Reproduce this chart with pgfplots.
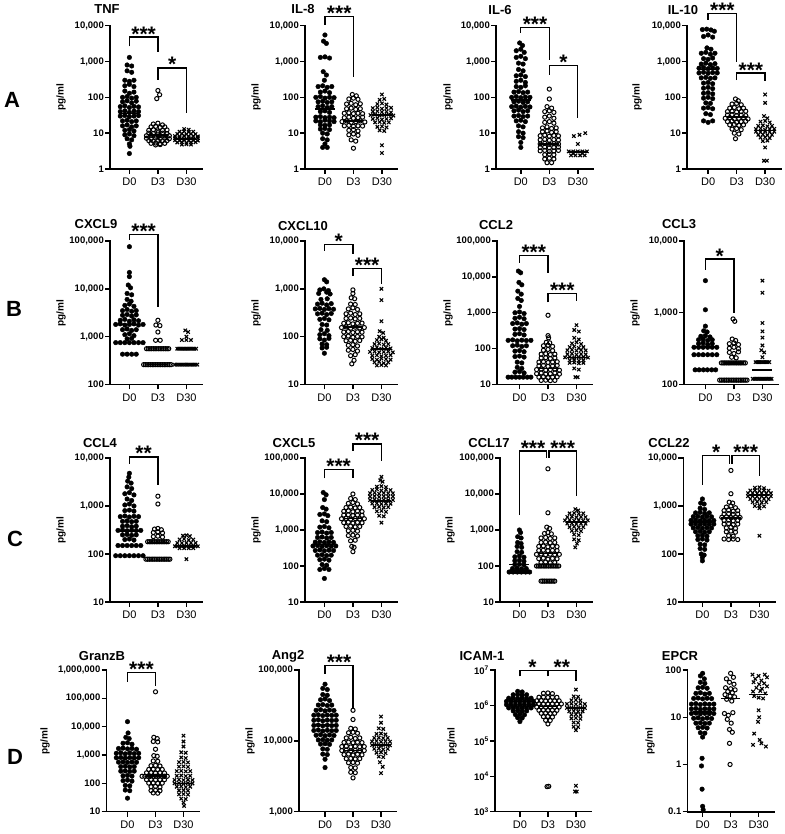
\documentclass[border=0pt]{standalone}
\usepackage{fontspec}
\setmainfont{Liberation Sans}
\usepackage{pgfplots}
\pgfplotsset{compat=1.18}
\newcommand\starfont{\bfseries\fontsize{21}{21}\selectfont}
\newcommand\titfont{\bfseries\fontsize{13}{13}\selectfont}
\newcommand\sigbr[7]{%
  \draw[line width=1.3pt] (axis cs:#1,#5) |- (axis cs:#2,#4) -- (axis cs:#2,#6);
  \node[anchor=base, inner sep=0pt, font=\starfont, yshift=-4pt] at (axis cs:#3,#4) {#7};}
\newcommand\meds[3]{%
  \addplot[pmed] coordinates {(-0.35,#1)(0.35,#1)};
  \addplot[pmed] coordinates {(0.65,#2)(1.35,#2)};
  \addplot[pmed] coordinates {(1.65,#3)(2.35,#3)};}
\pgfplotsset{
  pdzero/.style={only marks, mark=*, mark size=2.3pt, black},
  pdthree/.style={only marks, mark=o, mark size=2.1pt, black, mark options={line width=1pt}},
  pdthirty/.style={only marks, mark=x, mark size=2.4pt, black, mark options={line width=1.1pt}},
  pmed/.style={black, line width=1.6pt, no marks},
}
\pgfplotsset{scale only axis, axis x line*=bottom, axis y line*=left,
  axis line style={line width=1.6pt, line cap=rect},
  xtick={0,1,2}, xticklabels={D0,D3,D30}, tick align=outside, major tick length=5pt,
  tick style={line width=1.4pt, black}, yminorticks=false, clip=false, xmax=2.55,
  xticklabel style={font=\fontsize{11}{11}\selectfont, inner sep=1pt, yshift=-3pt},
  yticklabel style={font=\bfseries\fontsize{9.5}{9.5}\selectfont, inner sep=1pt}}
\begin{document}
\begin{tikzpicture}[x=1pt,y=1pt]
\useasboundingbox (0,0) rectangle (784,834);
% ---------------- Row A ----------------
\begin{axis}[ymode=log, anchor=south west, at={(110pt,665pt)}, width=92.1pt, height=143.3pt, xmin=-0.68, ymin=1, ymax=10000, ytick={1,10,100,1000,10000}, yticklabels={1,10,100,{1,000},{10,000}}]
\addplot[pdzero] coordinates {(0,1300)(-0.08,800)(0.08,750)(-0.08,550)(0.08,500)(-0.16,300)(0,280)(0.16,300)(-0.16,210)(0,230)(0.16,200)(-0.16,150)(0,130)(0.16,140)(-0.24,100)(-0.08,105)(0.08,95)(0.24,100)(-0.24,75)(-0.08,80)(0.08,70)(0.24,78)(-0.32,55)(-0.16,58)(0,52)(0.16,56)(0.32,54)(-0.32,40)(-0.16,42)(0,38)(0.16,41)(0.32,40)(-0.32,30)(-0.16,31)(0,29)(0.16,30)(0.32,31)(-0.24,22)(-0.08,23)(0.08,21)(0.24,22)(-0.24,16)(-0.08,17)(0.08,15)(0.24,16)(-0.16,12)(0,12.5)(0.16,11.5)(-0.16,9)(0,9.5)(0.16,8.5)(-0.08,7)(0.08,6.5)(0,5)(0.02,4.3)(0,2.7)};
\addplot[pdthree] coordinates {(1,155)(1.06,118)(0.96,92)(0.84,18)(1,19)(1.16,17)(0.76,15)(0.92,15.5)(1.08,14.5)(1.24,15)(0.68,12)(0.84,12.5)(1,11.5)(1.16,12)(1.32,12.3)(0.68,10)(0.84,9.8)(1,10.3)(1.16,10)(1.32,9.7)(0.6,8.5)(0.76,8.7)(0.92,8.3)(1.08,8.6)(1.24,8.4)(1.4,8.5)(0.6,7.2)(0.76,7)(0.92,7.3)(1.08,7.1)(1.24,7.2)(1.4,7)(0.68,6.2)(0.84,6)(1,6.3)(1.16,6.1)(1.32,6.2)(0.76,5.2)(0.92,5.3)(1.08,5.1)(1.24,5.2)(0.92,4.7)(1.08,4.8)};
\addplot[pdthirty] coordinates {(1.92,13)(2.08,12.5)(1.76,11)(1.92,11.3)(2.08,10.8)(2.24,11)(1.68,9.5)(1.84,9.7)(2,9.3)(2.16,9.6)(2.32,9.4)(1.6,8.3)(1.76,8.1)(1.92,8.4)(2.08,8.2)(2.24,8.3)(2.4,8.1)(1.6,7.2)(1.76,7.3)(1.92,7)(2.08,7.2)(2.24,7.1)(2.4,7.3)(1.6,6.3)(1.76,6.2)(1.92,6.4)(2.08,6.2)(2.24,6.3)(2.4,6.2)(1.68,5.5)(1.84,5.6)(2,5.4)(2.16,5.5)(2.32,5.6)(1.84,4.8)(2,4.9)(2.16,4.8)};
\meds{35}{9}{7}
\sigbr{0}{1}{0.5}{4800}{2630}{1800}{***}
\sigbr{1}{2}{1.5}{660}{310}{36}{*}
\end{axis}
\begin{axis}[ymode=log, anchor=south west, at={(305pt,665pt)}, width=92.6pt, height=143.3pt, xmin=-0.7, ymin=1, ymax=10000, ytick={1,10,100,1000,10000}, yticklabels={1,10,100,{1,000},{10,000}}]
\addplot[pdzero] coordinates {(0,5500)(-0.05,3700)(0.05,3200)(-0.16,1300)(0,1350)(0.16,1250)(-0.06,520)(0.05,420)(-0.02,300)(-0.24,200)(-0.08,210)(0.08,190)(0.24,200)(-0.16,140)(0,150)(0.16,135)(-0.32,100)(-0.16,105)(0,95)(0.16,100)(0.32,98)(-0.24,75)(-0.08,78)(0.08,72)(0.24,75)(-0.24,55)(-0.08,58)(0.08,52)(0.24,55)(-0.16,40)(0,42)(0.16,38)(-0.32,28)(-0.16,29)(0,27)(0.16,28)(0.32,27)(-0.32,22)(-0.16,21)(0,23)(0.16,22)(0.32,21)(-0.16,17)(0,16.5)(0.16,17)(-0.16,13)(0,13.5)(0.16,12.5)(-0.08,10)(0.08,9.5)(-0.08,7)(0.08,6.5)(0,5)(-0.08,4)(0.08,4)};
\addplot[pdthree] coordinates {(0.96,120)(1.1,110)(0.84,90)(1,95)(1.16,88)(0.76,65)(0.92,68)(1.08,62)(1.24,66)(0.76,48)(0.92,50)(1.08,46)(1.24,48)(0.68,36)(0.84,37)(1,35)(1.16,36)(1.32,35)(0.68,27)(0.84,28)(1,26)(1.16,27)(1.32,28)(0.6,21)(0.76,22)(0.92,20)(1.08,21)(1.24,22)(1.4,20.5)(0.68,16)(0.84,16.5)(1,15.5)(1.16,16)(1.32,15.8)(0.84,12)(1,12.5)(1.16,11.5)(0.84,9)(1,9.5)(1.16,8.7)(0.92,6.5)(1.08,6)(1,3.8)};
\addplot[pdthirty] coordinates {(2,120)(1.92,85)(2.08,90)(1.84,65)(2,68)(2.16,63)(1.68,50)(1.84,52)(2,48)(2.16,50)(2.32,51)(1.68,40)(1.84,41)(2,39)(2.16,40)(2.32,38)(1.6,32)(1.76,33)(1.92,31)(2.08,32)(2.24,33)(2.4,31)(1.68,25)(1.84,26)(2,24)(2.16,25)(2.32,26)(1.76,20)(1.92,20.5)(2.08,19.5)(2.24,20)(1.84,15)(2,15.5)(2.16,14.5)(1.92,12)(2.08,11.5)(2,4.6)(2,2.8)};
\meds{48}{22}{32}
\sigbr{0}{1}{0.5}{18000}{10700}{370}{***}
\end{axis}
\begin{axis}[ymode=log, anchor=south west, at={(496pt,665pt)}, width=97.5pt, height=143.3pt, xmin=-0.87, ymin=1, ymax=10000, ytick={1,10,100,1000,10000}, yticklabels={1,10,100,{1,000},{10,000}}]
\addplot[pdzero] coordinates {(-0.04,3300)(0.06,2800)(-0.16,2000)(0,2200)(0.12,1800)(-0.16,1300)(0,1400)(0.16,1200)(-0.08,900)(0.08,850)(-0.08,600)(0.08,550)(-0.16,400)(0,420)(0.16,380)(-0.16,280)(0,300)(0.16,260)(-0.16,200)(0,190)(0.16,210)(-0.24,140)(-0.08,145)(0.08,135)(0.24,140)(-0.32,100)(-0.16,105)(0,98)(0.16,102)(0.32,100)(-0.24,75)(-0.08,78)(0.08,72)(0.24,75)(-0.32,55)(-0.16,57)(0,53)(0.16,56)(0.32,54)(-0.24,42)(-0.08,44)(0.08,40)(0.24,42)(-0.24,30)(-0.08,31)(0.08,29)(0.24,30)(-0.16,22)(0,23)(0.16,21)(-0.08,16)(0.08,15)(-0.08,11)(0.08,10)(-0.08,8)(0.08,7.5)(0,5.5)(0,4)};
\addplot[pdthree] coordinates {(1,170)(1,90)(0.92,55)(1.08,50)(0.84,40)(1,42)(1.16,38)(0.84,28)(1,30)(1.16,26)(0.84,20)(1,21)(1.16,19)(0.76,14)(0.92,15)(1.08,13.5)(1.24,14)(0.76,11)(0.92,11.5)(1.08,10.5)(1.24,11)(0.68,8.5)(0.84,8.8)(1,8.2)(1.16,8.6)(1.32,8.4)(0.68,6.5)(0.84,6.7)(1,6.3)(1.16,6.6)(1.32,6.4)(0.68,5)(0.84,5.2)(1,4.9)(1.16,5.1)(1.32,5)(0.68,4)(0.84,4.1)(1,3.9)(1.16,4)(1.32,4.1)(0.68,3.2)(0.84,3.3)(1,3.1)(1.16,3.2)(1.32,3.3)(0.84,2.5)(1,2.6)(1.16,2.5)(0.84,1.9)(1,2)(1.16,1.9)(0.92,1.5)(1.08,1.5)};
\addplot[pdthirty] coordinates {(1.86,8.3)(2.06,9)(2.26,10)(2,5)(1.68,3.1)(1.84,3.1)(2,3.1)(2.16,3.1)(2.32,3.1)(1.76,2.4)(1.92,2.4)(2.08,2.4)(2.24,2.4)(1.84,2.7)(2.16,2.7)};
\meds{85}{5}{3}
\sigbr{0}{1}{0.5}{9100}{6300}{1100}{***}
\sigbr{1}{2}{1.5}{780}{430}{27}{*}
\end{axis}
\begin{axis}[ymode=log, anchor=south west, at={(687pt,665pt)}, width=93.8pt, height=143.3pt, xmin=-0.74, ymin=1, ymax=10000, ytick={1,10,100,1000,10000}, yticklabels={1,10,100,{1,000},{10,000}}]
\addplot[pdzero] coordinates {(-0.2,7800)(-0.05,8000)(0.1,7600)(0.22,7000)(-0.16,5000)(0,5500)(0.16,4800)(-0.04,2400)(0.1,2200)(-0.24,1700)(-0.08,1800)(0.08,1600)(0.24,1700)(-0.16,1200)(0,1150)(0.16,1250)(-0.24,850)(-0.08,900)(0.08,820)(0.24,870)(-0.32,650)(-0.16,680)(0,630)(0.16,660)(0.32,640)(-0.32,480)(-0.16,500)(0,470)(0.16,490)(0.32,480)(-0.24,350)(-0.08,360)(0.08,340)(0.24,350)(-0.16,250)(0,260)(0.16,240)(-0.16,180)(0,190)(0.16,175)(-0.16,130)(0,135)(0.16,125)(-0.16,95)(0,100)(0.16,92)(-0.08,70)(0.08,68)(-0.16,50)(0,52)(0.16,48)(-0.08,35)(0.08,33)(-0.16,22)(0,20)(0.16,22)};
\addplot[pdthree] coordinates {(0.96,90)(1.06,80)(0.84,65)(1,68)(1.16,62)(0.76,50)(0.92,52)(1.08,48)(1.24,50)(0.68,40)(0.84,41)(1,39)(1.16,40)(1.32,41)(0.68,32)(0.84,33)(1,31)(1.16,32)(1.32,31)(0.6,26)(0.76,27)(0.92,25)(1.08,26)(1.24,27)(1.4,25)(0.68,21)(0.84,22)(1,20)(1.16,21)(1.32,21.5)(0.76,17)(0.92,17.5)(1.08,16.5)(1.24,17)(0.84,13)(1,13.5)(1.16,12.5)(0.92,10)(1.08,9.5)(0.96,7)};
\addplot[pdthirty] coordinates {(2,120)(2,70)(1.96,30)(2.08,26)(1.84,21)(2,22)(2.16,20)(1.76,16)(1.92,16.5)(2.08,15.5)(2.24,16)(1.68,13)(1.84,13.5)(2,12.5)(2.16,13)(2.32,13.2)(1.68,11)(1.84,10.7)(2,11.2)(2.16,10.8)(2.32,11)(1.76,9)(1.92,9.2)(2.08,8.8)(2.24,9)(1.84,7.5)(2,7.7)(2.16,7.3)(1.92,6)(2.08,6.2)(2,4)(1.96,1.7)(2.06,1.7)};
\meds{600}{28}{12}
\sigbr{0}{1}{0.5}{22000}{14800}{1000}{***}
\sigbr{1}{2}{1.5}{475}{300}{280}{***}
\end{axis}
% ---------------- Row B ----------------
\begin{axis}[ymode=log, anchor=south west, at={(110pt,449.5pt)}, width=92.1pt, height=143.5pt, xmin=-0.68, ymin=100, ymax=100000, ytick={100,1000,10000,100000}, yticklabels={100,{1,000},{10,000},{100,000}}]
\addplot[pdzero] coordinates {(0,76000)(0,22000)(0,18000)(-0.04,12000)(0.04,10500)(-0.08,8000)(0.08,7500)(-0.08,6000)(0.06,5500)(-0.16,4500)(0,4800)(0.16,4300)(-0.24,3500)(-0.08,3700)(0.08,3400)(0.24,3500)(-0.24,2800)(-0.08,2900)(0.08,2700)(0.24,2850)(-0.32,2200)(-0.16,2300)(0,2100)(0.16,2250)(0.32,2150)(-0.48,1800)(-0.32,1850)(-0.16,1750)(0,1800)(0.16,1850)(0.32,1750)(0.48,1800)(-0.24,1400)(-0.08,1450)(0.08,1350)(0.24,1400)(-0.16,1100)(0,1150)(0.16,1050)(-0.08,900)(0.08,920)(-0.48,750)(-0.32,750)(-0.16,750)(0,750)(0.16,750)(0.32,750)(0.48,750)(-0.24,430)(-0.08,430)(0.08,430)(0.24,430)};
\addplot[pdthree] coordinates {(1,2200)(0.93,1750)(1.07,1700)(1,1250)(0.92,840)(1.08,840)(0.6,560)(0.66,560)(0.72,560)(0.78,560)(0.84,560)(0.9,560)(0.96,560)(1.02,560)(1.08,560)(1.14,560)(1.2,560)(1.26,560)(1.32,560)(1.38,560)(0.5,260)(0.56,260)(0.62,260)(0.68,260)(0.74,260)(0.8,260)(0.86,260)(0.92,260)(0.98,260)(1.04,260)(1.1,260)(1.16,260)(1.22,260)(1.28,260)(1.34,260)(1.4,260)(1.46,260)};
\addplot[pdthirty] coordinates {(1.96,1350)(2.06,1250)(2,1000)(1.84,850)(2,850)(2.16,850)(1.68,560)(1.74,560)(1.8,560)(1.86,560)(1.92,560)(1.98,560)(2.04,560)(2.1,560)(2.16,560)(2.22,560)(2.28,560)(2.34,560)(1.6,260)(1.66,260)(1.72,260)(1.78,260)(1.84,260)(1.9,260)(1.96,260)(2.02,260)(2.08,260)(2.14,260)(2.2,260)(2.26,260)(2.32,260)(2.38,260)};
\meds{1800}{260}{560}
\sigbr{0}{1}{0.5}{138000}{105000}{4200}{***}
\end{axis}
\begin{axis}[ymode=log, anchor=south west, at={(305pt,449.5pt)}, width=92.1pt, height=143.5pt, xmin=-0.68, ymin=10, ymax=10000, ytick={10,100,1000,10000}, yticklabels={10,100,{1,000},{10,000}}]
\addplot[pdzero] coordinates {(0,1550)(0.08,1400)(-0.16,950)(-0.02,1000)(0.14,920)(-0.2,800)(0.08,850)(0.2,780)(-0.12,600)(0.1,620)(-0.24,480)(-0.08,500)(0.08,460)(0.24,490)(-0.32,380)(-0.16,390)(0,370)(0.16,385)(0.32,375)(-0.24,300)(-0.08,310)(0.08,290)(0.24,305)(-0.16,230)(0,240)(0.16,225)(-0.08,180)(0.08,175)(-0.12,140)(0.1,135)(-0.16,110)(0,115)(0.16,105)(-0.16,90)(0,85)(0.16,92)(-0.08,70)(0.08,68)(-0.08,58)(0.08,60)(0,45)};
\addplot[pdthree] coordinates {(1,950)(1,800)(0.94,650)(1.06,620)(0.92,480)(1.08,470)(0.84,380)(1,400)(1.16,370)(0.76,300)(0.92,310)(1.08,290)(1.24,300)(0.76,240)(0.92,245)(1.08,235)(1.24,240)(0.68,190)(0.84,195)(1,185)(1.16,190)(1.32,192)(0.6,155)(0.76,160)(0.92,150)(1.08,158)(1.24,152)(1.4,155)(0.68,125)(0.84,128)(1,122)(1.16,126)(1.32,124)(0.68,100)(0.84,103)(1,97)(1.16,101)(1.32,99)(0.76,82)(0.92,84)(1.08,80)(1.24,83)(0.84,66)(1,68)(1.16,64)(0.84,52)(1,54)(1.16,50)(0.92,40)(1.08,42)(1.04,32)(0.96,27)};
\addplot[pdthirty] coordinates {(2,1000)(2,580)(2,210)(1.94,130)(2.06,120)(1.92,100)(2.08,95)(1.84,85)(2,88)(2.16,82)(1.76,70)(1.92,72)(2.08,68)(2.24,70)(1.68,58)(1.84,60)(2,56)(2.16,59)(2.32,57)(1.6,48)(1.76,49)(1.92,47)(2.08,48)(2.24,49)(2.4,47)(1.68,40)(1.84,41)(2,39)(2.16,40)(2.32,41)(1.68,34)(1.84,33)(2,35)(2.16,34)(2.32,33)(1.76,29)(1.92,30)(2.08,28)(2.24,29)(1.84,25)(2,25.5)(2.16,25)};
\meds{370}{160}{55}
\sigbr{0}{1}{0.5}{8500}{6200}{5400}{*}
\sigbr{1}{2}{1.5}{2650}{1850}{1280}{***}
\end{axis}
\begin{axis}[ymode=log, anchor=south west, at={(497pt,449.5pt)}, width=95.2pt, height=143.5pt, xmin=-0.79, ymin=10, ymax=100000, ytick={10,100,1000,10000,100000}, yticklabels={10,100,{1,000},{10,000},{100,000}}]
\addplot[pdzero] coordinates {(-0.04,14500)(0.04,13000)(-0.02,7000)(0.08,6000)(-0.06,4000)(0.06,3300)(-0.06,2500)(0.06,2200)(0,1500)(-0.16,1000)(0,1050)(0.16,950)(-0.16,700)(0,750)(0.16,680)(-0.24,500)(-0.08,520)(0.08,480)(0.24,500)(-0.16,350)(0,360)(0.16,340)(-0.16,250)(0,260)(0.16,240)(-0.4,170)(-0.24,175)(-0.08,165)(0.08,172)(0.24,168)(0.4,170)(-0.24,120)(-0.08,125)(0.08,115)(0.24,120)(-0.16,85)(0,88)(0.16,82)(-0.16,60)(0,62)(0.16,58)(-0.08,42)(0.08,40)(-0.08,30)(0.08,28)(-0.16,22)(0,23)(0.16,21)(-0.4,16)(-0.27,16)(-0.13,16)(0,16)(0.13,16)(0.27,16)(0.4,16)};
\addplot[pdthree] coordinates {(1,850)(1,230)(1.02,200)(0.94,150)(1.06,145)(0.84,120)(1,125)(1.16,115)(0.84,90)(1,95)(1.16,88)(0.76,70)(0.92,72)(1.08,68)(1.24,70)(0.76,55)(0.92,56)(1.08,53)(1.24,55)(0.68,42)(0.84,43)(1,41)(1.16,42)(1.32,43)(0.68,33)(0.84,34)(1,32)(1.16,33)(1.32,34)(0.6,26)(0.76,27)(0.92,25)(1.08,26)(1.24,27)(1.4,25)(0.6,20)(0.76,21)(0.92,19.5)(1.08,20)(1.24,21)(1.4,19.5)(0.68,16)(0.84,16.5)(1,15.5)(1.16,16)(1.32,16.3)(0.76,13)(0.92,13.2)(1.08,12.8)(1.24,13)};
\addplot[pdthirty] coordinates {(2,450)(1.92,330)(2.08,300)(1.92,200)(2.08,180)(1.84,140)(2,150)(2.16,135)(1.76,110)(1.92,115)(2.08,105)(2.24,110)(1.68,90)(1.84,92)(2,88)(2.16,91)(2.32,89)(1.68,70)(1.84,72)(2,68)(2.16,71)(2.32,69)(1.6,57)(1.76,58)(1.92,56)(2.08,57)(2.24,58)(2.4,56)(1.76,47)(1.92,48)(2.08,46)(2.24,47)(1.76,40)(1.92,41)(2.08,39)(2.24,40)(1.92,28)(2.08,26)(1.96,16)(2.04,16)};
\meds{170}{28}{57}
\sigbr{0}{1}{0.5}{40000}{25000}{13000}{***}
\sigbr{1}{2}{1.5}{3500}{1950}{2150}{***}
\end{axis}
\begin{axis}[ymode=log, anchor=south west, at={(684pt,449.5pt)}, width=94.1pt, height=143.5pt, xmin=-0.75, ymin=100, ymax=10000, ytick={100,1000,10000}, yticklabels={100,{1,000},{10,000}}]
\addplot[pdzero] coordinates {(0,2800)(0,1100)(0,650)(-0.06,560)(0.06,540)(-0.16,470)(0,480)(0.16,460)(-0.24,420)(-0.08,430)(0.08,410)(0.24,420)(-0.24,370)(-0.08,380)(0.08,360)(0.24,370)(-0.4,330)(-0.24,330)(-0.08,330)(0.08,330)(0.24,330)(0.4,330)(-0.4,260)(-0.24,260)(-0.08,260)(0.08,260)(0.24,260)(0.4,260)(-0.36,160)(-0.22,160)(-0.07,160)(0.07,160)(0.22,160)(0.36,160)};
\addplot[pdthree] coordinates {(0.97,820)(1.03,760)(0.94,430)(1.06,410)(0.84,370)(1,380)(1.16,360)(0.84,320)(1,330)(1.16,315)(0.84,280)(1,270)(1.16,285)(0.92,240)(1.08,235)(0.56,200)(0.62,200)(0.68,200)(0.74,200)(0.8,200)(0.86,200)(0.92,200)(0.98,200)(1.04,200)(1.1,200)(1.16,200)(1.22,200)(1.28,200)(1.34,200)(1.4,200)(0.5,115)(0.56,115)(0.62,115)(0.68,115)(0.74,115)(0.8,115)(0.86,115)(0.92,115)(0.98,115)(1.04,115)(1.1,115)(1.16,115)(1.22,115)(1.28,115)(1.34,115)(1.4,115)(1.46,115)};
\addplot[pdthirty] coordinates {(2,2800)(2,1900)(2,720)(2,550)(2,450)(2,350)(1.96,300)(2.06,280)(2,240)(1.76,205)(1.82,205)(1.88,205)(1.94,205)(2,205)(2.06,205)(2.12,205)(2.18,205)(2.24,205)(1.66,120)(1.72,120)(1.78,120)(1.84,120)(1.9,120)(1.96,120)(2.02,120)(2.08,120)(2.14,120)(2.2,120)(2.26,120)(2.32,120)};
\meds{330}{200}{160}
\sigbr{0}{1}{0.5}{5600}{4000}{1000}{*}
\end{axis}
% ---------------- Row C ----------------
\begin{axis}[ymode=log, anchor=south west, at={(110pt,232pt)}, width=92.1pt, height=144pt, xmin=-0.68, ymin=10, ymax=10000, ytick={10,100,1000,10000}, yticklabels={10,100,{1,000},{10,000}}]
\addplot[pdzero] coordinates {(0,4800)(-0.02,4000)(-0.06,3300)(0.06,3000)(-0.08,2500)(0.08,2300)(-0.16,1800)(0,1900)(0.16,1700)(-0.08,1400)(0.08,1300)(-0.16,1050)(0,1100)(0.16,1000)(-0.16,800)(0,820)(0.16,780)(-0.32,600)(-0.16,620)(0,590)(0.16,610)(0.32,600)(-0.24,480)(-0.08,490)(0.08,470)(0.24,480)(-0.24,380)(-0.08,390)(0.08,370)(0.24,380)(-0.4,310)(-0.24,315)(-0.08,305)(0.08,312)(0.24,308)(0.4,310)(-0.24,250)(-0.08,255)(0.08,245)(0.24,250)(-0.16,200)(0,205)(0.16,195)(-0.4,150)(-0.24,150)(-0.08,150)(0.08,150)(0.24,150)(0.4,150)(-0.48,92)(-0.32,92)(-0.16,92)(0,92)(0.16,92)(0.32,92)(0.48,92)};
\addplot[pdthree] coordinates {(1,1600)(1,1100)(0.88,330)(1,340)(1.12,320)(0.84,280)(1,290)(1.16,275)(0.84,230)(1,235)(1.16,225)(0.64,180)(0.7,180)(0.76,180)(0.82,180)(0.88,180)(0.94,180)(1,180)(1.06,180)(1.12,180)(1.18,180)(1.24,180)(1.3,180)(1.36,180)(0.58,78)(0.64,78)(0.7,78)(0.76,78)(0.82,78)(0.88,78)(0.94,78)(1,78)(1.06,78)(1.12,78)(1.18,78)(1.24,78)(1.3,78)(1.36,78)(1.42,78)};
\addplot[pdthirty] coordinates {(1.88,240)(2,245)(2.12,235)(1.76,200)(1.92,205)(2.08,195)(2.24,200)(1.68,170)(1.84,170)(2,170)(2.16,170)(2.32,170)(1.6,145)(1.68,145)(1.76,145)(1.84,145)(1.92,145)(2,145)(2.08,145)(2.16,145)(2.24,145)(2.32,145)(2.4,145)(1.76,132)(1.92,132)(2.08,132)(2.24,132)(2,78)};
\meds{300}{175}{145}
\sigbr{0}{1}{0.5}{10500}{7500}{2700}{**}
\end{axis}
\begin{axis}[ymode=log, anchor=south west, at={(305pt,232pt)}, width=92.1pt, height=144pt, xmin=-0.68, ymin=10, ymax=100000, ytick={10,100,1000,10000,100000}, yticklabels={10,100,{1,000},{10,000},{100,000}}]
\addplot[pdzero] coordinates {(-0.04,11000)(0.06,9500)(0,7000)(-0.06,4200)(0.06,3800)(-0.16,2700)(0,2800)(0.12,2500)(-0.08,1800)(0.08,1700)(-0.16,1200)(0,1250)(0.16,1150)(-0.24,850)(-0.08,880)(0.08,820)(0.24,850)(-0.24,620)(-0.08,640)(0.08,600)(0.24,620)(-0.32,460)(-0.16,470)(0,450)(0.16,465)(0.32,455)(-0.4,360)(-0.24,370)(-0.08,350)(0.08,365)(0.24,355)(0.4,360)(-0.32,270)(-0.16,280)(0,265)(0.16,275)(0.32,270)(-0.24,200)(-0.08,205)(0.08,195)(0.24,200)(-0.16,150)(0,155)(0.16,145)(-0.08,110)(0.08,105)(-0.16,80)(0,85)(0.16,80)(0,45)};
\addplot[pdthree] coordinates {(1,10000)(0.92,7500)(1.08,7000)(0.84,5500)(1,5800)(1.16,5300)(0.76,4200)(0.92,4300)(1.08,4100)(1.24,4200)(0.68,3300)(0.84,3400)(1,3200)(1.16,3350)(1.32,3250)(0.68,2600)(0.84,2650)(1,2550)(1.16,2620)(1.32,2580)(0.6,2050)(0.76,2100)(0.92,2000)(1.08,2080)(1.24,2020)(1.4,2050)(0.68,1600)(0.84,1650)(1,1550)(1.16,1620)(1.32,1580)(0.76,1250)(0.92,1280)(1.08,1220)(1.24,1250)(0.84,950)(1,980)(1.16,930)(0.84,700)(1,720)(1.16,680)(0.92,500)(1.08,520)(0.96,350)(1.04,330)(1,250)};
\addplot[pdthirty] coordinates {(2,30000)(1.96,24000)(2.04,22000)(1.84,16000)(2,16500)(2.16,15500)(1.68,13000)(1.84,13500)(2,12500)(2.16,13200)(2.32,12800)(1.6,10500)(1.76,10800)(1.92,10200)(2.08,10600)(2.24,10400)(2.4,10500)(1.6,8500)(1.76,8700)(1.92,8300)(2.08,8600)(2.24,8400)(2.4,8500)(1.6,6800)(1.76,7000)(1.92,6600)(2.08,6900)(2.24,6700)(2.4,6800)(1.68,5400)(1.84,5500)(2,5300)(2.16,5450)(2.32,5350)(1.76,4300)(1.92,4400)(2.08,4200)(2.24,4300)(1.84,3300)(2,3400)(2.16,3200)(1.92,2500)(2.08,2400)(2,1600)};
\meds{400}{2100}{6500}
\sigbr{0}{1}{0.5}{49000}{27000}{27000}{***}
\sigbr{1}{2}{1.5}{245000}{160000}{85000}{***}
\end{axis}
\begin{axis}[ymode=log, anchor=south west, at={(500pt,232pt)}, width=92.1pt, height=144pt, xmin=-0.68, ymin=10, ymax=100000, ytick={10,100,1000,10000,100000}, yticklabels={10,100,{1,000},{10,000},{100,000}}]
\addplot[pdzero] coordinates {(0,1000)(0.04,850)(-0.06,650)(0.06,600)(-0.06,450)(0.06,420)(-0.08,350)(0.08,330)(-0.08,250)(0.08,240)(-0.16,180)(0,190)(0.16,175)(-0.16,140)(0,145)(0.16,135)(-0.16,110)(0,112)(0.16,108)(-0.24,85)(-0.08,87)(0.08,83)(0.24,85)(-0.36,68)(-0.22,68)(-0.07,68)(0.07,68)(0.22,68)(0.36,68)(-0.29,70)(-0.14,70)(0,70)(0.14,70)(0.29,70)};
\addplot[pdthree] coordinates {(1,50000)(1,3000)(0.96,1200)(1.06,1100)(0.88,800)(1,850)(1.12,780)(0.76,600)(0.92,620)(1.08,580)(1.24,600)(0.76,450)(0.92,460)(1.08,440)(1.24,450)(0.68,350)(0.84,360)(1,340)(1.16,355)(1.32,345)(0.68,270)(0.84,275)(1,265)(1.16,272)(1.32,268)(0.6,210)(0.76,215)(0.92,205)(1.08,212)(1.24,208)(1.4,210)(0.68,160)(0.84,165)(1,155)(1.16,162)(1.32,158)(0.76,125)(0.92,128)(1.08,122)(1.24,125)(0.6,100)(0.66,100)(0.72,100)(0.78,100)(0.84,100)(0.9,100)(0.96,100)(1.02,100)(1.08,100)(1.14,100)(1.2,100)(1.26,100)(1.32,100)(1.38,100)(0.76,38)(0.82,38)(0.88,38)(0.94,38)(1,38)(1.06,38)(1.12,38)(1.18,38)(1.24,38)};
\addplot[pdthirty] coordinates {(1.96,3800)(2.06,3500)(1.76,2900)(1.92,2950)(2.08,2850)(2.24,2900)(1.68,2300)(1.84,2350)(2,2250)(2.16,2320)(2.32,2280)(1.6,1850)(1.76,1900)(1.92,1800)(2.08,1870)(2.24,1830)(2.4,1850)(1.68,1500)(1.84,1530)(2,1470)(2.16,1510)(2.32,1490)(1.76,1200)(1.92,1230)(2.08,1180)(2.24,1200)(1.84,950)(2,980)(2.16,930)(1.92,750)(2.08,720)(1.92,550)(2.08,520)(2.02,420)(1.96,330)};
\meds{110}{220}{1700}
\sigbr{0}{0.96}{0.48}{155000}{2600}{100000}{***}
\sigbr{1.04}{2}{1.52}{155000}{100000}{8900}{***}
\end{axis}
\begin{axis}[ymode=log, anchor=south west, at={(683.3pt,232pt)}, width=91.8pt, height=144pt, xmin=-0.67, ymin=10, ymax=10000, ytick={10,100,1000,10000}, yticklabels={10,100,{1,000},{10,000}}]
\addplot[pdzero] coordinates {(0,1400)(-0.06,1150)(0.06,1100)(-0.08,900)(0.08,850)(-0.24,720)(-0.08,740)(0.08,700)(0.24,720)(-0.32,600)(-0.16,610)(0,590)(0.16,605)(0.32,595)(-0.4,500)(-0.24,510)(-0.08,490)(0.08,505)(0.24,495)(0.4,500)(-0.4,420)(-0.24,425)(-0.08,415)(0.08,422)(0.24,418)(0.4,420)(-0.32,350)(-0.16,355)(0,345)(0.16,352)(0.32,348)(-0.24,290)(-0.08,295)(0.08,285)(0.24,290)(-0.16,240)(0,245)(0.16,235)(-0.16,200)(0,205)(0.16,195)(-0.08,160)(0.08,155)(-0.08,130)(0.08,125)(-0.04,100)(0.06,95)(0,85)(0,72)};
\addplot[pdthree] coordinates {(1,5500)(1,1800)(0.94,1200)(1.06,1150)(0.84,950)(1,1000)(1.16,920)(0.76,800)(0.92,820)(1.08,780)(1.24,800)(0.76,680)(0.92,690)(1.08,670)(1.24,680)(0.68,580)(0.84,590)(1,570)(1.16,585)(1.32,575)(0.76,500)(0.92,510)(1.08,490)(1.24,500)(0.76,420)(0.92,430)(1.08,410)(1.24,420)(0.84,350)(1,360)(1.16,340)(0.84,290)(1,300)(1.16,285)(0.92,240)(1.08,235)(0.76,205)(0.92,200)(1.08,205)(1.24,200)};
\addplot[pdthirty] coordinates {(1.84,2400)(2,2450)(2.16,2350)(1.68,2100)(1.84,2120)(2,2080)(2.16,2110)(2.32,2090)(1.6,1850)(1.76,1870)(1.92,1830)(2.08,1860)(2.24,1840)(2.4,1850)(1.6,1600)(1.76,1620)(1.92,1580)(2.08,1610)(2.24,1590)(2.4,1600)(1.68,1400)(1.84,1420)(2,1380)(2.16,1410)(2.32,1390)(1.76,1200)(1.92,1220)(2.08,1180)(2.24,1200)(1.84,1000)(2,1020)(2.16,980)(2,900)(2,240)};
\meds{460}{560}{1700}
\sigbr{0}{0.96}{0.48}{11200}{2750}{7500}{*}
\sigbr{1.04}{2}{1.52}{11200}{7500}{4200}{***}
\end{axis}
% ---------------- Row D ----------------
\begin{axis}[ymode=log, anchor=south west, at={(106.5pt,22.3pt)}, width=92.4pt, height=141.7pt, xmin=-0.75, ymin=10, ymax=1000000, ytick={10,100,1000,10000,100000,1000000}, yticklabels={10,100,{1,000},{10,000},{100,000},{1,000,000}}]
\addplot[pdzero] coordinates {(0,15000)(0.02,6000)(-0.06,4200)(0.06,3800)(-0.16,2600)(0,2700)(0.16,2400)(-0.32,1700)(-0.16,1750)(0,1650)(0.16,1700)(0.32,1600)(-0.4,1150)(-0.24,1200)(-0.08,1100)(0.08,1180)(0.24,1120)(0.4,1150)(-0.4,800)(-0.24,820)(-0.08,780)(0.08,810)(0.24,790)(0.4,800)(-0.32,560)(-0.16,570)(0,550)(0.16,565)(0.32,555)(-0.24,390)(-0.08,400)(0.08,380)(0.24,390)(-0.24,270)(-0.08,275)(0.08,265)(0.24,270)(-0.16,185)(0,190)(0.16,180)(-0.16,125)(0,130)(0.16,120)(-0.08,85)(0.08,82)(-0.08,58)(0.08,55)(0,30)};
\addplot[pdthree] coordinates {(1,170000)(0.94,4200)(1.06,3800)(0.92,3000)(1.08,2900)(1,1600)(0.94,950)(1.06,900)(0.92,620)(1.08,600)(0.84,420)(1,430)(1.16,410)(0.76,310)(0.92,315)(1.08,305)(1.24,310)(0.68,235)(0.84,240)(1,230)(1.16,238)(1.32,232)(0.52,178)(0.62,178)(0.72,178)(0.82,178)(0.92,178)(1.02,178)(1.12,178)(1.22,178)(1.32,178)(1.42,178)(0.68,135)(0.84,138)(1,132)(1.16,136)(1.32,134)(0.76,102)(0.92,104)(1.08,100)(1.24,102)(0.84,76)(1,78)(1.16,74)(0.84,56)(1,57)(1.16,55)(0.92,46)(1.08,45)};
\addplot[pdthirty] coordinates {(2,4800)(2,3000)(2,2000)(1.92,1250)(2.08,1200)(1.92,820)(2.08,780)(1.84,560)(2,570)(2.16,550)(1.84,390)(2,400)(2.16,380)(1.76,270)(1.92,275)(2.08,265)(2.24,270)(1.76,185)(1.92,190)(2.08,180)(2.24,185)(1.68,132)(1.84,135)(2,130)(2.16,134)(2.32,131)(1.68,100)(1.84,102)(2,98)(2.16,101)(2.32,99)(1.76,76)(1.92,78)(2.08,74)(2.24,76)(1.84,56)(2,57)(2.16,55)(1.84,41)(2,42)(2.16,40)(1.92,29)(2.08,28)(2,21)(2.02,16)};
\meds{800}{178}{100}
\sigbr{0}{1}{0.5}{800000}{380000}{270000}{***}
\end{axis}
\begin{axis}[ymode=log, anchor=south west, at={(299pt,22.3pt)}, width=97.4pt, height=141.7pt, xmin=-0.93, ymin=1000, ymax=100000, ytick={1000,10000,100000}, yticklabels={{1,000},{10,000},{100,000}}]
\addplot[pdzero] coordinates {(0,63000)(-0.08,55000)(0.08,53000)(-0.08,45000)(0.08,44000)(-0.16,38000)(0,39000)(0.16,37000)(-0.24,32000)(-0.08,32500)(0.08,31500)(0.24,32000)(-0.32,27000)(-0.16,27500)(0,26500)(0.16,27200)(0.32,26800)(-0.4,23000)(-0.24,23300)(-0.08,22700)(0.08,23100)(0.24,22900)(0.4,23000)(-0.4,19500)(-0.24,19800)(-0.08,19200)(0.08,19600)(0.24,19400)(0.4,19500)(-0.4,16500)(-0.24,16700)(-0.08,16300)(0.08,16600)(0.24,16400)(0.4,16500)(-0.4,14000)(-0.24,14200)(-0.08,13800)(0.08,14100)(0.24,13900)(0.4,14000)(-0.32,12000)(-0.16,12200)(0,11800)(0.16,12100)(0.32,11900)(-0.24,10300)(-0.08,10400)(0.08,10200)(0.24,10300)(-0.16,9000)(0,9100)(0.16,8900)(-0.08,7700)(0.08,7600)(-0.08,6500)(0.08,6400)(0,5500)(0,4200)};
\addplot[pdthree] coordinates {(1,27000)(1,20000)(0.92,15000)(1.08,14700)(0.84,13000)(1,13200)(1.16,12800)(0.76,11000)(0.92,11200)(1.08,10800)(1.24,11000)(0.68,9500)(0.84,9600)(1,9400)(1.16,9550)(1.32,9450)(0.6,8300)(0.76,8400)(0.92,8200)(1.08,8350)(1.24,8250)(1.4,8300)(0.6,7300)(0.76,7400)(0.92,7200)(1.08,7350)(1.24,7250)(1.4,7300)(0.68,6400)(0.84,6500)(1,6300)(1.16,6450)(1.32,6350)(0.76,5600)(0.92,5650)(1.08,5550)(1.24,5600)(0.84,4900)(1,4950)(1.16,4850)(0.92,4200)(1.08,4150)(0.92,3600)(1.08,3550)(1,3000)};
\addplot[pdthirty] coordinates {(2,22000)(2,18000)(1.92,15000)(2.08,14700)(1.84,12500)(2,12700)(2.16,12300)(1.76,11000)(1.92,11100)(2.08,10900)(2.24,11000)(1.68,9800)(1.84,9900)(2,9700)(2.16,9850)(2.32,9750)(1.68,8700)(1.84,8800)(2,8600)(2.16,8750)(2.32,8650)(1.76,7700)(1.92,7800)(2.08,7600)(2.24,7700)(1.84,6800)(2,6900)(2.16,6700)(1.92,6000)(2.08,5900)(1.96,5000)(2.06,4300)(2,3500)};
\meds{17000}{7300}{8700}
\sigbr{0}{1}{0.5}{115000}{89000}{28000}{***}
\end{axis}
\begin{axis}[ymode=log, anchor=south west, at={(495pt,22.3pt)}, width=96.3pt, height=141.7pt, xmin=-0.89, ymin=1000, ymax=10000000, ytick={1000,10000,100000,1000000,10000000}, yticklabels={10\textsuperscript{3},10\textsuperscript{4},10\textsuperscript{5},10\textsuperscript{6},10\textsuperscript{7}}]
\addplot[pdzero] coordinates {(-0.08,2500000)(0.08,2400000)(-0.24,2000000)(-0.08,2050000)(0.08,1950000)(0.24,2000000)(-0.4,1600000)(-0.24,1620000)(-0.08,1580000)(0.08,1610000)(0.24,1590000)(0.4,1600000)(-0.48,1300000)(-0.32,1320000)(-0.16,1280000)(0,1310000)(0.16,1290000)(0.32,1300000)(0.48,1300000)(-0.48,1050000)(-0.32,1060000)(-0.16,1040000)(0,1050000)(0.16,1055000)(0.32,1045000)(0.48,1050000)(-0.4,850000)(-0.24,860000)(-0.08,840000)(0.08,855000)(0.24,845000)(0.4,850000)(-0.24,700000)(-0.08,710000)(0.08,690000)(0.24,700000)(-0.16,550000)(0,560000)(0.16,540000)(-0.08,450000)(0.08,440000)(0,350000)};
\addplot[pdthree] coordinates {(0.84,2200000)(1,2250000)(1.16,2150000)(0.68,1700000)(0.84,1720000)(1,1680000)(1.16,1710000)(1.32,1690000)(0.6,1350000)(0.76,1370000)(0.92,1330000)(1.08,1360000)(1.24,1340000)(1.4,1350000)(0.52,1100000)(0.68,1110000)(0.84,1090000)(1,1100000)(1.16,1105000)(1.32,1095000)(1.48,1100000)(0.6,900000)(0.76,910000)(0.92,890000)(1.08,905000)(1.24,895000)(1.4,900000)(0.68,730000)(0.84,740000)(1,720000)(1.16,735000)(1.32,725000)(0.76,600000)(0.92,610000)(1.08,590000)(1.24,600000)(0.84,480000)(1,490000)(1.16,470000)(0.92,380000)(1.08,375000)(1,300000)(0.97,5100)(1.03,5200)};
\addplot[pdthirty] coordinates {(2,2800000)(1.92,1800000)(2.08,1750000)(1.84,1400000)(2,1420000)(2.16,1380000)(1.68,1100000)(1.84,1120000)(2,1080000)(2.16,1110000)(2.32,1090000)(1.68,850000)(1.84,860000)(2,840000)(2.16,855000)(2.32,845000)(1.76,680000)(1.92,690000)(2.08,670000)(2.24,680000)(1.84,550000)(2,560000)(2.16,540000)(1.84,430000)(2,440000)(2.16,420000)(1.92,330000)(2.08,325000)(1.92,250000)(2.08,245000)(2,200000)(2,5400)(1.97,3700)(2.03,3700)};
\meds{1300000}{930000}{840000}
\sigbr{0}{1}{0.45}{9500000}{6600000}{6600000}{*}
\sigbr{1}{2}{1.5}{9500000}{6600000}{5000000}{**}
\end{axis}
\begin{axis}[ymode=log, anchor=south west, at={(687.5pt,22.3pt)}, width=86.5pt, height=141.7pt, xmin=-0.54, ymin=0.1, ymax=100, ytick={0.1,1,10,100}, yticklabels={0.1,1,10,100}]
\addplot[pdzero] coordinates {(0,85)(-0.08,75)(0.06,65)(-0.08,55)(0.08,52)(-0.16,42)(0,43)(0.16,41)(-0.24,32)(-0.08,33)(0.08,31)(0.24,32)(-0.32,25)(-0.16,25.5)(0,24.5)(0.16,25.2)(0.32,24.8)(-0.4,19)(-0.24,19.4)(-0.08,18.6)(0.08,19.2)(0.24,18.8)(0.4,19)(-0.4,15)(-0.24,15.3)(-0.08,14.7)(0.08,15.1)(0.24,14.9)(0.4,15)(-0.4,12)(-0.24,12.2)(-0.08,11.8)(0.08,12.1)(0.24,11.9)(0.4,12)(-0.32,9.5)(-0.16,9.7)(0,9.3)(0.16,9.6)(0.32,9.4)(-0.24,7.5)(-0.08,7.6)(0.08,7.4)(0.24,7.5)(-0.16,6)(0,6.1)(0.16,5.9)(-0.08,4.7)(0.08,4.6)(0,3.8)(-0.02,1.35)(-0.04,0.93)(-0.02,0.3)(0,0.13)(0.02,0.11)};
\addplot[pdthree] coordinates {(1,85)(1.1,70)(0.85,65)(0.96,55)(1.12,50)(0.82,42)(1,40)(1.16,38)(0.9,35)(1.06,33)(0.8,30)(0.98,28)(1.14,27)(0.86,24)(1.04,22)(0.78,12)(0.92,11)(1.08,12.5)(0.88,9)(1.02,7.5)(0.96,5.5)(1.06,4.8)(0.96,2.8)(0.98,1)};
\addplot[pdthirty] coordinates {(1.78,80)(2,75)(2.22,80)(1.88,65)(2.1,60)(2.3,70)(1.82,55)(2.02,50)(2.2,52)(1.92,42)(2.12,40)(2.3,45)(1.8,35)(2.06,36)(2.24,32)(1.84,28)(2,26)(2.16,25)(2,14)(2.02,10)(1.98,8)(1.84,4.5)(2.04,3.3)(1.8,2.6)(2.1,2.8)(2.26,2.4)};
\meds{13}{25}{30}
\end{axis}
% ---------------- Titles, labels ----------------
\begin{scope}[every node/.style={font=\titfont, inner sep=0pt}]
\node at (107,824.5) {TNF};
\node at (303,825) {IL-8};
\node at (500,824) {IL-6};
\node at (683,824) {IL-10};
\node at (96,610) {CXCL9};
\node at (303,608) {CXCL10};
\node at (496,609) {CCL2};
\node at (679,610) {CCL3};
\node at (100,391) {CCL4};
\node at (294,391) {CXCL5};
\node at (489,391) {CCL17};
\node at (669,391) {CCL22};
\node at (102,178) {GranzB};
\node at (288,178) {Ang2};
\node at (482,178) {ICAM-1};
\node at (680,178) {EPCR};
\end{scope}
\begin{scope}[every node/.style={font=\bfseries\fontsize{10}{10}\selectfont, rotate=90, inner sep=0pt}]
\node at (61,736.5) {pg/ml};
\node at (256,736.5) {pg/ml};
\node at (448,736.5) {pg/ml};
\node at (637,736.5) {pg/ml};
\node at (61,521) {pg/ml};
\node at (256,521) {pg/ml};
\node at (448,521) {pg/ml};
\node at (635,521) {pg/ml};
\node at (61,304) {pg/ml};
\node at (256,304) {pg/ml};
\node at (450,304) {pg/ml};
\node at (635,304) {pg/ml};
\node at (45,93) {pg/ml};
\node at (250,93) {pg/ml};
\node at (452,93) {pg/ml};
\node at (650,93) {pg/ml};
\end{scope}
\begin{scope}[every node/.style={font=\bfseries\fontsize{22}{22}\selectfont, inner sep=0pt}]
\node at (12,734) {A};
\node at (14,525) {B};
\node at (15,295) {C};
\node at (15,77) {D};
\end{scope}
\end{tikzpicture}
\end{document}
